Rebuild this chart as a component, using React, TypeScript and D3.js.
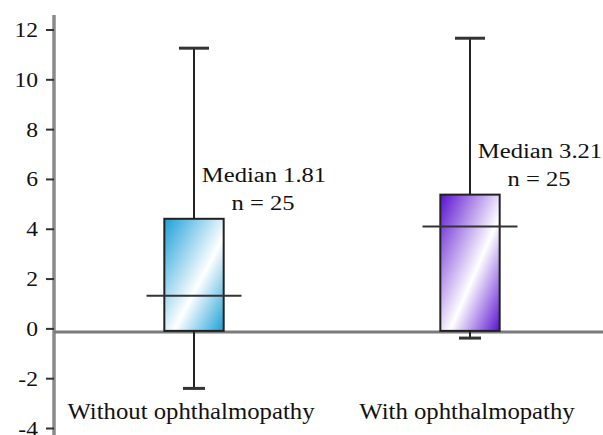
import React, { useRef, useEffect } from "react";
import * as d3 from "d3";

const groups = ["Without ophthalmopathy", "With ophthalmopathy"];
const boxLow = [0, 0];
const boxHigh = [4.42, 5.39];
const medianLine = [1.33, 4.11];
const whiskerLow = [-2.39, -0.37];
const whiskerHigh = [11.27, 11.67];
const medianLabels = ["Median 1.81", "Median 3.21"];
const countLabels = ["n = 25", "n = 25"];
const boxColors = ["#1ba0d8", "#5a10d0"];
const yTicks = [-4, -2, 0, 2, 4, 6, 8, 10, 12];

const W = 603;
const H = 435;

const App = () => {
  const chartRef = useRef<SVGSVGElement>(null);

  useEffect(() => {
    const svg = d3.select(chartRef.current);
    svg.selectAll("*").remove();

    const font = "Liberation Serif, serif";
    const axisX = 54;

    const x = d3.scaleBand().domain(groups).range([56, 608]);
    const y = d3.scaleLinear().domain([-4, 12]).range([428.5, 30]);
    const boxW = x.bandwidth() * 0.215;

    const defs = svg.append("defs");
    groups.forEach((g, i) => {
      const grad = defs
        .append("linearGradient")
        .attr("id", `grad${i}`)
        .attr("x1", 0)
        .attr("y1", 0)
        .attr("x2", 1)
        .attr("y2", 1);
      grad.append("stop").attr("offset", 0).attr("stop-color", boxColors[i]);
      grad.append("stop").attr("offset", 0.58).attr("stop-color", "#ffffff");
      grad.append("stop").attr("offset", 1).attr("stop-color", boxColors[i]);
    });

    // y axis
    svg
      .append("line")
      .attr("x1", axisX)
      .attr("x2", axisX)
      .attr("y1", 15)
      .attr("y2", H)
      .attr("stroke", "#8a8a8a")
      .attr("stroke-width", 3.5);

    const ticks = svg.append("g");
    ticks
      .selectAll("line")
      .data(yTicks)
      .enter()
      .append("line")
      .attr("x1", axisX - 8)
      .attr("x2", axisX)
      .attr("y1", (d) => y(d))
      .attr("y2", (d) => y(d))
      .attr("stroke", "#333")
      .attr("stroke-width", 2);
    ticks
      .selectAll("text")
      .data(yTicks)
      .enter()
      .append("text")
      .attr("transform", (d) => `translate(38,${y(d)}) scale(1.18,1)`)
      .attr("dy", "0.35em")
      .attr("text-anchor", "end")
      .style("font-family", font)
      .style("font-size", "20px")
      .attr("fill", "#111")
      .text((d) => d);

    // zero line
    svg
      .append("line")
      .attr("x1", axisX)
      .attr("x2", W)
      .attr("y1", y(0) + 3)
      .attr("y2", y(0) + 3)
      .attr("stroke", "#7a7a7a")
      .attr("stroke-width", 3);

    const box = svg
      .selectAll(".box")
      .data(groups)
      .enter()
      .append("g")
      .attr("class", "box");

    const cx = (g: string) => (x(g) as number) + x.bandwidth() / 2;

    box
      .append("line")
      .attr("x1", cx)
      .attr("x2", cx)
      .attr("y1", (_, i) => y(whiskerLow[i]))
      .attr("y2", (_, i) => y(whiskerHigh[i]))
      .attr("stroke", "#222")
      .attr("stroke-width", 2);
    box
      .append("line")
      .attr("x1", (g) => cx(g) - 15)
      .attr("x2", (g) => cx(g) + 15)
      .attr("y1", (_, i) => y(whiskerHigh[i]))
      .attr("y2", (_, i) => y(whiskerHigh[i]))
      .attr("stroke", "#333")
      .attr("stroke-width", 3);
    box
      .append("line")
      .attr("x1", (g) => cx(g) - 11)
      .attr("x2", (g) => cx(g) + 11)
      .attr("y1", (_, i) => y(whiskerLow[i]))
      .attr("y2", (_, i) => y(whiskerLow[i]))
      .attr("stroke", "#333")
      .attr("stroke-width", 3);

    box
      .append("rect")
      .attr("x", (g) => cx(g) - boxW / 2)
      .attr("width", boxW)
      .attr("y", (_, i) => y(boxHigh[i]))
      .attr("height", (_, i) => y(boxLow[i]) - y(boxHigh[i]) + 2)
      .attr("fill", (_, i) => `url(#grad${i})`)
      .attr("stroke", "#222")
      .attr("stroke-width", 2);

    box
      .append("line")
      .attr("x1", (g) => cx(g) - boxW * 0.8)
      .attr("x2", (g) => cx(g) + boxW * 0.8)
      .attr("y1", (_, i) => y(medianLine[i]))
      .attr("y2", (_, i) => y(medianLine[i]))
      .attr("stroke", "#333")
      .attr("stroke-width", 2);

    box
      .append("text")
      .attr("transform", (g, i) => `translate(${cx(g) + 70},${y(boxHigh[i]) - 37}) scale(1.23,1)`)
      .attr("text-anchor", "middle")
      .style("font-family", font)
      .style("font-size", "20px")
      .attr("fill", "#111")
      .text((_, i) => medianLabels[i]);
    box
      .append("text")
      .attr("transform", (g, i) => `translate(${cx(g) + 69},${y(boxHigh[i]) - 9}) scale(1.23,1)`)
      .attr("text-anchor", "middle")
      .style("font-family", font)
      .style("font-size", "20px")
      .attr("fill", "#111")
      .text((_, i) => countLabels[i]);

    box
      .append("text")
      .attr("transform", (g) => `translate(${cx(g) - 3},419) scale(1.1,1)`)
      .attr("text-anchor", "middle")
      .style("font-family", font)
      .style("font-size", "22.5px")
      .attr("fill", "#111")
      .text((g) => g);
  }, []);

  return (
    <svg
      ref={chartRef}
      width={W}
      height={H}
      style={{ position: "absolute", left: 0, top: 0, background: "#fff" }}
    />
  );
};

export default App;
